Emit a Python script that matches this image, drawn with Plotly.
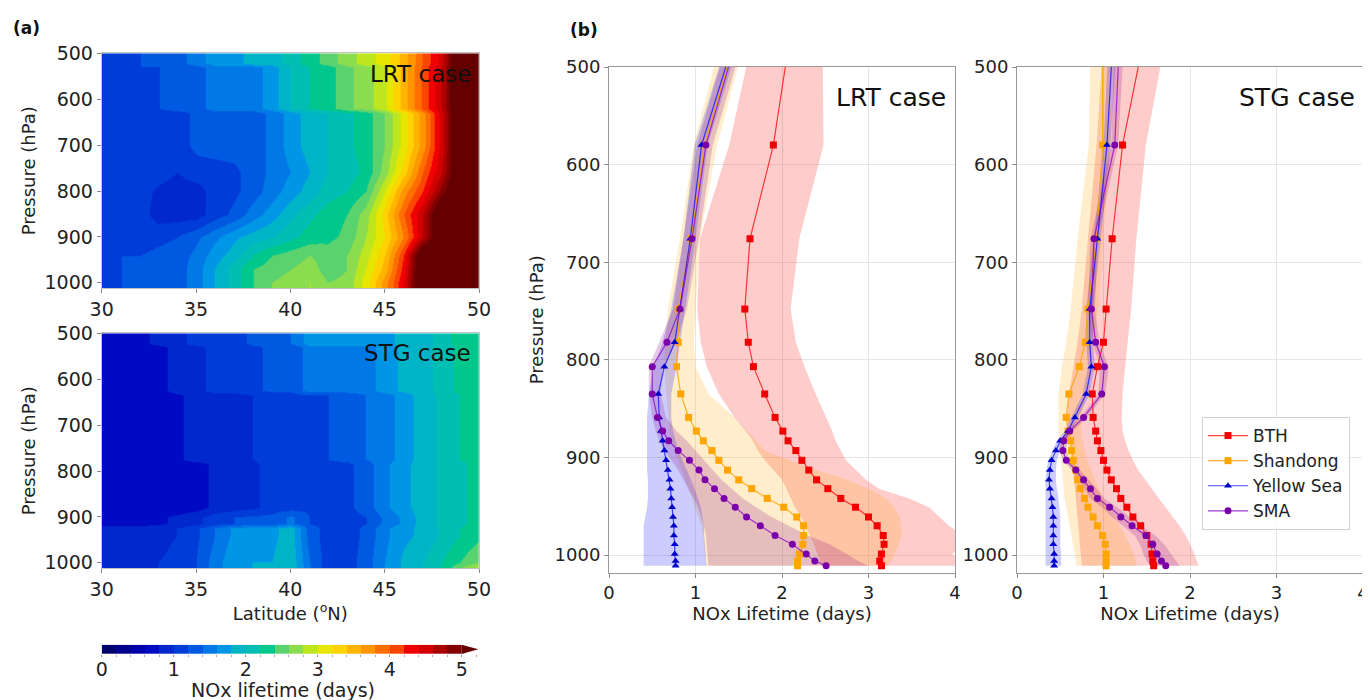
import plotly.graph_objects as go

# The page body has an 8 px margin, so the figure is laid out in a 1362x692 box offset by 8 px.
OFF = 8
W, H = 1370 - OFF, 700 - OFF
def fx(p): return (p - OFF) / W
def fy(p): return 1 - (p - OFF) / H

FONT = "DejaVu Sans"

# ---------------- (a) heat maps ----------------
LAT = [30, 31, 32, 33, 34, 35, 36, 37, 38, 39, 40, 41, 42, 43, 44, 45, 46, 47, 48, 49, 50]

LRT_P = [500, 522, 530, 620, 630, 700, 760, 800, 850, 900, 940, 970, 1000, 1013]
LRT_Z = [
    [1.2, 1.2, 1.2, 1.3, 1.3, 1.5, 1.7, 1.7, 1.9, 1.9, 2.1, 2.3, 2.5, 2.7, 2.9, 3.1, 3.5, 4.0, 4.5, 5.5, 5.5],
    [1.2, 1.2, 1.2, 1.3, 1.3, 1.5, 1.7, 1.7, 1.9, 1.9, 2.1, 2.3, 2.5, 2.7, 2.9, 3.1, 3.5, 4.0, 4.5, 5.5, 5.5],
    [1.05, 1.05, 1.2, 1.2, 1.3, 1.3, 1.5, 1.5, 1.5, 1.7, 2.0, 2.2, 2.3, 2.55, 2.7, 2.95, 3.5, 4.05, 4.6, 5.5, 5.5],
    [1.05, 1.05, 1.2, 1.2, 1.3, 1.3, 1.5, 1.5, 1.5, 1.7, 2.0, 2.2, 2.3, 2.55, 2.7, 2.95, 3.5, 4.05, 4.6, 5.5, 5.5],
    [1.0, 1.0, 1.1, 1.1, 1.1, 1.25, 1.3, 1.3, 1.3, 1.45, 1.7, 1.9, 2.0, 2.15, 2.3, 2.6, 3.1, 3.7, 4.5, 5.5, 5.5],
    [1.0, 1.0, 1.1, 1.1, 1.1, 1.25, 1.3, 1.3, 1.3, 1.45, 1.7, 1.9, 2.0, 2.15, 2.3, 2.6, 3.1, 3.7, 4.5, 5.5, 5.5],
    [1.0, 1.0, 1.1, 1.1, 1.0, 1.1, 1.1, 1.15, 1.3, 1.45, 1.6, 1.8, 2.0, 2.1, 2.25, 2.7, 3.3, 4.0, 4.6, 5.5, 5.5],
    [1.0, 1.0, 1.1, 0.95, 0.9, 0.9, 1.1, 1.15, 1.3, 1.5, 1.7, 1.9, 2.1, 2.2, 2.4, 3.0, 3.7, 4.2, 4.9, 5.5, 5.5],
    [1.0, 1.0, 1.1, 0.9, 0.9, 0.9, 1.1, 1.25, 1.5, 1.7, 1.95, 2.15, 2.3, 2.4, 2.7, 3.3, 4.0, 4.6, 5.5, 5.5, 5.5],
    [1.0, 1.05, 1.1, 1.15, 1.2, 1.35, 1.55, 1.75, 1.9, 2.0, 2.15, 2.3, 2.35, 2.45, 2.8, 3.2, 3.8, 4.6, 5.5, 5.5, 5.5],
    [1.15, 1.2, 1.2, 1.25, 1.3, 1.45, 1.7, 1.9, 2.2, 2.4, 2.5, 2.6, 2.5, 2.6, 2.9, 3.4, 4.2, 5.5, 5.5, 5.5, 5.5],
    [1.2, 1.2, 1.25, 1.3, 1.3, 1.5, 1.8, 2.1, 2.4, 2.5, 2.6, 2.7, 2.5, 2.6, 3.0, 3.5, 4.3, 5.5, 5.5, 5.5, 5.5],
    [1.2, 1.2, 1.25, 1.3, 1.3, 1.5, 1.8, 2.1, 2.4, 2.6, 2.7, 2.8, 2.6, 2.65, 3.1, 3.7, 4.4, 5.5, 5.5, 5.5, 5.5],
    [1.2, 1.2, 1.25, 1.3, 1.3, 1.5, 1.8, 2.1, 2.4, 2.6, 2.7, 2.8, 2.6, 2.65, 3.1, 3.7, 4.4, 5.5, 5.5, 5.5, 5.5],
]

STG_P = [500, 522, 530, 625, 635, 775, 785, 880, 900, 915, 925, 940, 1000, 1013]
STG_Z = [
    [0.7, 0.7, 0.7, 0.9, 0.9, 1.1, 1.1, 1.1, 1.25, 1.25, 1.4, 1.7, 1.7, 1.7, 1.7, 1.7, 1.9, 1.9, 2.1, 2.3, 2.3],
    [0.7, 0.7, 0.7, 0.9, 0.9, 1.1, 1.1, 1.1, 1.25, 1.25, 1.4, 1.7, 1.7, 1.7, 1.7, 1.7, 1.9, 1.9, 2.1, 2.3, 2.3],
    [0.7, 0.7, 0.7, 0.7, 0.9, 0.9, 1.1, 1.1, 1.15, 1.25, 1.25, 1.5, 1.5, 1.5, 1.5, 1.7, 1.85, 1.9, 2.1, 2.25, 2.3],
    [0.7, 0.7, 0.7, 0.7, 0.9, 0.9, 1.1, 1.1, 1.15, 1.25, 1.25, 1.5, 1.5, 1.5, 1.5, 1.7, 1.85, 1.9, 2.1, 2.25, 2.3],
    [0.7, 0.7, 0.7, 0.7, 0.75, 0.9, 0.9, 0.9, 1.0, 1.1, 1.1, 1.2, 1.2, 1.25, 1.4, 1.5, 1.7, 1.9, 2.05, 2.2, 2.3],
    [0.7, 0.7, 0.7, 0.7, 0.75, 0.9, 0.9, 0.9, 1.0, 1.1, 1.1, 1.2, 1.2, 1.25, 1.4, 1.5, 1.7, 1.9, 2.05, 2.2, 2.3],
    [0.65, 0.65, 0.65, 0.65, 0.65, 0.7, 0.85, 0.9, 0.95, 1.1, 1.1, 1.15, 1.15, 1.15, 1.3, 1.55, 1.75, 1.9, 2.05, 2.15, 2.3],
    [0.65, 0.65, 0.65, 0.65, 0.65, 0.7, 0.85, 0.9, 0.95, 1.1, 1.1, 1.15, 1.15, 1.15, 1.3, 1.55, 1.75, 1.9, 2.05, 2.15, 2.3],
    [0.7, 0.7, 0.7, 0.75, 0.85, 0.95, 1.1, 1.2, 1.25, 1.25, 1.45, 1.2, 1.1, 1.1, 1.2, 1.45, 1.65, 1.9, 2.05, 2.15, 2.3],
    [0.7, 0.7, 0.7, 0.75, 0.85, 0.95, 1.1, 1.2, 1.25, 1.25, 1.45, 1.2, 1.1, 1.1, 1.2, 1.45, 1.65, 1.9, 2.05, 2.15, 2.3],
    [0.9, 0.9, 0.9, 0.95, 1.0, 1.15, 1.4, 1.65, 1.7, 1.75, 1.9, 1.3, 1.1, 1.1, 1.25, 1.55, 1.75, 1.85, 2.05, 2.2, 2.3],
    [0.9, 0.9, 0.9, 0.95, 1.0, 1.15, 1.4, 1.65, 1.7, 1.75, 1.9, 1.3, 1.1, 1.1, 1.25, 1.55, 1.75, 1.85, 2.05, 2.2, 2.35],
    [0.9, 0.9, 0.95, 1.0, 1.05, 1.2, 1.5, 1.75, 1.8, 1.8, 1.95, 1.4, 1.1, 1.1, 1.3, 1.6, 1.85, 2.0, 2.2, 2.4, 2.6],
    [0.9, 0.9, 0.95, 1.0, 1.05, 1.2, 1.5, 1.75, 1.8, 1.8, 1.95, 1.4, 1.1, 1.1, 1.3, 1.6, 1.85, 2.0, 2.2, 2.6, 2.9],
]

# discrete colour levels (0..5 by 0.2) + over colour
LEVEL_COLORS = ["#00006e", "#00008c", "#0000aa", "#000ac3", "#0028cd", "#003cd7", "#005ae1",
                "#0078e6", "#0096e6", "#00b4c8", "#00beb4", "#00c88c", "#5ad26e", "#8cdc50",
                "#bee61e", "#e6e600", "#ffd200", "#ffb400", "#ff9600", "#ff6e00", "#fa4600",
                "#f00000", "#d20000", "#aa0000", "#820000", "#640000"]
ZMIN, ZMAX = 0.0, 5.2
CB_MID = [0.1, 0.3, 0.5, 0.7, 0.9, 1.1, 1.3, 1.5, 1.7, 1.9, 2.1, 2.3, 2.5, 2.7, 2.9,
          3.1, 3.3, 3.5, 3.7, 3.9, 4.1, 4.3, 4.5, 4.7, 4.9]

n = len(LEVEL_COLORS)
cscale = []
for i, c in enumerate(LEVEL_COLORS):
    cscale.append([i / n, c])
    cscale.append([(i + 1) / n, c])

# ---------------- (b) profiles ----------------
P_LEV = [470, 580, 676, 748, 782, 807, 835, 859, 873, 883, 893, 903, 913, 923, 932, 942,
         951, 961, 970, 980, 989, 999, 1006, 1011]

BTH_LRT = [2.09, 1.90, 1.63, 1.57, 1.61, 1.67, 1.80, 1.92, 2.01, 2.07, 2.16, 2.23, 2.31, 2.40,
           2.53, 2.68, 2.85, 3.00, 3.10, 3.17, 3.18, 3.15, 3.13, 3.15]
BTH_LRT_LO = [1.66, 1.39, 1.05, 1.02, 1.06, 1.13, 1.27, 1.45, 1.58, 1.66, 1.72, 1.8, 1.9, 2.0,
              2.05, 2.1, 2.15, 2.22, 2.27, 2.32, 2.37, 2.41, 2.44, 2.46]
BTH_LRT_HI = [2.47, 2.48, 2.2, 2.1, 2.16, 2.26, 2.39, 2.51, 2.58, 2.62, 2.68, 2.74, 2.85, 2.97,
              3.12, 3.47, 3.70, 3.82, 3.93, 4.1, 4.1, 3.97, 4.05, 4.1]

SD_LRT = [1.47, 1.10, 0.95, 0.80, 0.80, 0.78, 0.83, 0.92, 1.01, 1.09, 1.19, 1.27, 1.37, 1.50,
          1.65, 1.83, 2.02, 2.17, 2.25, 2.25, 2.24, 2.20, 2.18, 2.18]
SD_LRT_LO = [1.3, 0.98, 0.82, 0.68, 0.65, 0.64, 0.66, 0.68, 0.7, 0.72, 0.76, 0.8, 0.84, 0.88,
             0.92, 0.96, 1.0, 1.04, 1.07, 1.09, 1.1, 1.11, 1.12, 1.12]
SD_LRT_HI = [1.58, 1.25, 1.05, 1.0, 0.98, 1.0, 1.15, 1.45, 1.6, 1.7, 1.8, 2.1, 2.4, 2.75, 3.0,
             3.2, 3.3, 3.36, 3.38, 3.38, 3.35, 3.3, 3.26, 3.22]

YS_LRT = [1.455, 1.07, 0.94, 0.82, 0.76, 0.64, 0.57, 0.58, 0.60, 0.62, 0.64, 0.66, 0.68, 0.70,
          0.71, 0.72, 0.73, 0.74, 0.75, 0.75, 0.76, 0.76, 0.77, 0.77]
YS_LRT_LO = [1.38, 0.99, 0.86, 0.72, 0.62, 0.52, 0.46, 0.44, 0.44, 0.44, 0.44, 0.44, 0.44, 0.45,
             0.45, 0.45, 0.44, 0.42, 0.40, 0.40, 0.40, 0.40, 0.40, 0.40]
YS_LRT_HI = [1.52, 1.14, 1.0, 0.88, 0.82, 0.78, 0.72, 0.72, 0.74, 0.77, 0.8, 0.85, 0.9, 0.95,
             0.99, 1.03, 1.06, 1.08, 1.1, 1.1, 1.11, 1.12, 1.12, 1.13]

SMA_LRT = [1.48, 1.12, 0.96, 0.82, 0.67, 0.50, 0.50, 0.56, 0.62, 0.69, 0.80, 0.93, 1.04, 1.11,
           1.22, 1.33, 1.46, 1.59, 1.75, 1.92, 2.12, 2.28, 2.38, 2.51]
SMA_LRT_LO = [1.38, 1.02, 0.86, 0.74, 0.58, 0.46, 0.46, 0.5, 0.54, 0.58, 0.64, 0.72, 0.8, 0.86,
              0.92, 0.98, 1.03, 1.07, 1.1, 1.12, 1.13, 1.14, 1.15, 1.15]
SMA_LRT_HI = [1.56, 1.2, 1.04, 0.9, 0.78, 0.62, 0.6, 0.66, 0.78, 0.9, 1.0, 1.1, 1.2, 1.3, 1.42,
              1.55, 1.7, 1.88, 2.08, 2.3, 2.55, 2.75, 2.88, 3.0]

BTH_STG = [1.47, 1.22, 1.10, 1.03, 1.00, 0.93, 0.87, 0.88, 0.91, 0.93, 0.97, 1.00, 1.04, 1.09,
           1.15, 1.20, 1.27, 1.34, 1.43, 1.50, 1.55, 1.56, 1.57, 1.58]
BTH_STG_LO = [1.0, 0.92, 0.82, 0.75, 0.7, 0.65, 0.6, 0.58, 0.58, 0.6, 0.62, 0.63, 0.64, 0.66,
              0.67, 0.68, 0.69, 0.7, 0.71, 0.72, 0.73, 0.74, 0.75, 0.75]
BTH_STG_HI = [1.72, 1.49, 1.38, 1.32, 1.28, 1.25, 1.22, 1.21, 1.22, 1.25, 1.29, 1.34, 1.40, 1.48,
              1.56, 1.64, 1.72, 1.8, 1.88, 1.95, 2.0, 2.05, 2.08, 2.1]

SD_STG = [0.99, 0.99, 0.92, 0.82, 0.79, 0.72, 0.60, 0.57, 0.59, 0.62, 0.63, 0.65, 0.68, 0.70,
          0.73, 0.78, 0.82, 0.88, 0.93, 0.99, 1.02, 1.03, 1.03, 1.03]
SD_STG_LO = [0.85, 0.83, 0.70, 0.62, 0.57, 0.52, 0.48, 0.48, 0.48, 0.49, 0.5, 0.51, 0.52, 0.53,
             0.54, 0.55, 0.57, 0.59, 0.61, 0.63, 0.65, 0.67, 0.68, 0.68]
SD_STG_HI = [1.1, 1.08, 1.0, 0.94, 0.88, 0.85, 0.8, 0.74, 0.74, 0.76, 0.78, 0.82, 0.86, 0.9,
             0.95, 1.0, 1.06, 1.12, 1.19, 1.25, 1.3, 1.35, 1.37, 1.38]

YS_STG = [1.11, 1.04, 0.93, 0.84, 0.84, 0.86, 0.80, 0.67, 0.59, 0.50, 0.45, 0.40, 0.38, 0.37,
          0.38, 0.40, 0.41, 0.42, 0.42, 0.42, 0.42, 0.43, 0.43, 0.43]
YS_STG_LO = [1.06, 1.0, 0.89, 0.8, 0.8, 0.82, 0.76, 0.63, 0.55, 0.46, 0.41, 0.36, 0.34, 0.33,
             0.33, 0.33, 0.33, 0.33, 0.33, 0.33, 0.33, 0.33, 0.33, 0.33]
YS_STG_HI = [1.16, 1.08, 0.97, 0.88, 0.88, 0.9, 0.84, 0.71, 0.63, 0.54, 0.5, 0.46, 0.45, 0.45,
             0.46, 0.48, 0.49, 0.5, 0.5, 0.5, 0.5, 0.51, 0.51, 0.51]

SMA_STG = [1.185, 1.13, 0.89, 0.86, 0.91, 1.01, 0.98, 0.77, 0.61, 0.54, 0.53, 0.57, 0.68, 0.77,
           0.85, 0.93, 1.07, 1.20, 1.33, 1.49, 1.57, 1.62, 1.67, 1.72]
SMA_STG_LO = [1.13, 1.09, 0.85, 0.82, 0.87, 0.96, 0.94, 0.73, 0.57, 0.5, 0.49, 0.53, 0.63, 0.71,
              0.78, 0.85, 0.98, 1.10, 1.22, 1.36, 1.42, 1.46, 1.5, 1.54]
SMA_STG_HI = [1.24, 1.17, 0.93, 0.9, 0.95, 1.06, 1.02, 0.81, 0.65, 0.58, 0.57, 0.61, 0.73, 0.83,
              0.92, 1.01, 1.16, 1.3, 1.44, 1.6, 1.7, 1.78, 1.84, 1.88]

REGIONS = ["BTH", "Shandong", "Yellow Sea", "SMA"]
LINE_COL = ["rgba(255,0,0,0.75)", "rgba(255,165,0,0.85)", "rgba(0,0,255,0.7)", "rgba(140,0,200,0.75)"]
MARK_COL = ["#f00000", "#ffa500", "#0000cc", "#7a00aa"]
FILL_COL = ["rgba(255,0,0,0.2)", "rgba(255,165,0,0.2)", "rgba(0,0,255,0.2)", "rgba(128,0,128,0.2)"]
SYMBOLS = ["square", "square", "triangle-up", "circle"]
MSIZE = [7, 7, 7, 7]

LRT = [(BTH_LRT, BTH_LRT_LO, BTH_LRT_HI), (SD_LRT, SD_LRT_LO, SD_LRT_HI),
       (YS_LRT, YS_LRT_LO, YS_LRT_HI), (SMA_LRT, SMA_LRT_LO, SMA_LRT_HI)]
STG = [(BTH_STG, BTH_STG_LO, BTH_STG_HI), (SD_STG, SD_STG_LO, SD_STG_HI),
       (YS_STG, YS_STG_LO, YS_STG_HI), (SMA_STG, SMA_STG_LO, SMA_STG_HI)]

fig = go.Figure()

fig.add_trace(go.Heatmap(x=LAT, y=LRT_P, z=LRT_Z, colorscale=cscale, zmin=ZMIN, zmax=ZMAX,
                         zsmooth="best", showscale=False, xaxis="x", yaxis="y", hoverinfo="skip"))
fig.add_trace(go.Heatmap(x=LAT, y=STG_P, z=STG_Z, colorscale=cscale, zmin=ZMIN, zmax=ZMAX,
                         zsmooth="best", showscale=False, xaxis="x2", yaxis="y2", hoverinfo="skip"))
fig.add_trace(go.Heatmap(x=CB_MID, y=[0.5], z=[CB_MID], colorscale=cscale, zmin=ZMIN, zmax=ZMAX,
                         showscale=False, xaxis="x5", yaxis="y5", hoverinfo="skip", xgap=0))

for data, xa, ya, legend in [(LRT, "x3", "y3", False), (STG, "x4", "y4", True)]:
    for i, (mid, lo, hi) in enumerate(data):
        fig.add_trace(go.Scatter(x=lo + hi[::-1], y=P_LEV + P_LEV[::-1], fill="toself",
                                 fillcolor=FILL_COL[i], line=dict(width=0), mode="lines",
                                 xaxis=xa, yaxis=ya, showlegend=False, hoverinfo="skip"))
    for i, (mid, lo, hi) in enumerate(data):
        fig.add_trace(go.Scatter(x=mid, y=P_LEV, mode="lines+markers", name=REGIONS[i],
                                 line=dict(color=LINE_COL[i], width=1.2),
                                 marker=dict(symbol=SYMBOLS[i], size=MSIZE[i], color=MARK_COL[i],
                                             line=dict(width=0)),
                                 xaxis=xa, yaxis=ya, showlegend=legend))

tickfont_a = dict(family=FONT, size=19, color="#222")
tickfont_b = dict(family=FONT, size=18, color="#222")
titlefont = dict(family=FONT, size=18, color="#222")
frame_a = dict(showline=True, mirror=True, linecolor="#c0c0c0", linewidth=1, automargin=False,
               ticks="outside", ticklen=4, tickcolor="#888", tickfont=tickfont_a, showgrid=False,
               zeroline=False)
frame_b = dict(showline=True, mirror=True, linecolor="#999", linewidth=1, automargin=False,
               ticks="outside", ticklen=4, tickcolor="#888", tickfont=tickfont_b, showgrid=True,
               gridcolor="#e6e6e6", gridwidth=1, zeroline=False)

XA = [fx(101.7), fx(479)]
fig.update_layout(
    template="none",
    width=W, height=H, margin=dict(l=0, r=0, t=0, b=0, autoexpand=False),
    paper_bgcolor="white", plot_bgcolor="white",
    font=dict(family=FONT, size=16, color="#222"),
    xaxis=dict(domain=XA, range=[30, 50], tickvals=[30, 35, 40, 45, 50], anchor="y", **frame_a),
    yaxis=dict(domain=[fy(288.3), fy(53.3)], range=[1012, 500], tickvals=[500, 600, 700, 800, 900, 1000],
               anchor="x", title=dict(text="Pressure (hPa)", font=titlefont, standoff=4), **frame_a),
    xaxis2=dict(domain=XA, range=[30, 50], tickvals=[30, 35, 40, 45, 50], anchor="y2",
                title=dict(text="Latitude (<sup>o</sup>N)", font=titlefont, standoff=2), **frame_a),
    yaxis2=dict(domain=[fy(568.3), fy(333.3)], range=[1012, 500], tickvals=[500, 600, 700, 800, 900, 1000],
                anchor="x2", title=dict(text="Pressure (hPa)", font=titlefont, standoff=4), **frame_a),
    xaxis3=dict(domain=[fx(609), fx(955)], range=[0, 4], dtick=1, anchor="y3",
                title=dict(text="NOx Lifetime (days)", font=titlefont, standoff=3), **frame_b),
    yaxis3=dict(domain=[fy(572.6), fy(67)], range=[1018, 500], tickvals=[500, 600, 700, 800, 900, 1000],
                anchor="x3", title=dict(text="Pressure (hPa)", font=titlefont, standoff=6), **frame_b),
    xaxis4=dict(domain=[fx(1017), fx(1363)], range=[0, 4], dtick=1, anchor="y4",
                title=dict(text="NOx Lifetime (days)", font=titlefont, standoff=3), **frame_b),
    yaxis4=dict(domain=[fy(572.6), fy(67)], range=[1018, 500], tickvals=[500, 600, 700, 800, 900, 1000],
                anchor="x4", **frame_b),
    xaxis5=dict(domain=[fx(101.7), fx(478.3)], range=[0, 5 * (376.6 / 360)], tick0=0, dtick=1,
                anchor="y5", showline=False, ticks="outside", ticklen=2, tickcolor="#888",
                tickfont=tickfont_a, showgrid=False, zeroline=False, automargin=False,
                ticklabelstandoff=-4,
                minor=dict(dtick=0.2, tick0=0, ticks="outside", ticklen=2, tickcolor="#aaa")),
    yaxis5=dict(domain=[fy(654), fy(644.7)], range=[0, 1], anchor="x5", visible=False,
                automargin=False),
    legend=dict(x=fx(1202), y=fy(417), xanchor="left", yanchor="top",
                font=dict(family=FONT, size=17, color="#222"), bgcolor="rgba(255,255,255,0.85)",
                bordercolor="#d0d0d0", borderwidth=1, tracegroupgap=0, itemwidth=40),
    shapes=[dict(type="path", xref="x5", yref="y5", path="M 5,0 L 5.231,0.5 L 5,1 Z",
                 fillcolor=LEVEL_COLORS[-1], line=dict(width=0))],
    annotations=[
        dict(text="NOx lifetime (days)", x=fx(283), y=fy(690), xref="paper", yref="paper",
             xanchor="center", yanchor="middle", showarrow=False,
             font=dict(family=FONT, size=19, color="#222")),
        dict(text="<b>(a)</b>", x=fx(11), y=fy(28), xref="paper", yref="paper", xanchor="left",
             yanchor="middle", showarrow=False, font=dict(family=FONT, size=17, color="#111")),
        dict(text="<b>(b)</b>", x=fx(568), y=fy(30), xref="paper", yref="paper", xanchor="left",
             yanchor="middle", showarrow=False, font=dict(family=FONT, size=17, color="#111")),
        dict(text="LRT case", x=fx(473), y=fy(74), xref="paper", yref="paper", xanchor="right",
             yanchor="middle", showarrow=False, font=dict(family=FONT, size=23, color="#111")),
        dict(text="STG case", x=fx(473), y=fy(353), xref="paper", yref="paper", xanchor="right",
             yanchor="middle", showarrow=False, font=dict(family=FONT, size=23, color="#111")),
        dict(text="LRT case", x=fx(948), y=fy(97), xref="paper", yref="paper", xanchor="right",
             yanchor="middle", showarrow=False, font=dict(family=FONT, size=25, color="#111")),
        dict(text="STG case", x=fx(1357), y=fy(98), xref="paper", yref="paper", xanchor="right",
             yanchor="middle", showarrow=False, font=dict(family=FONT, size=25, color="#111")),
    ],
)

fig.write_html("out.html")
